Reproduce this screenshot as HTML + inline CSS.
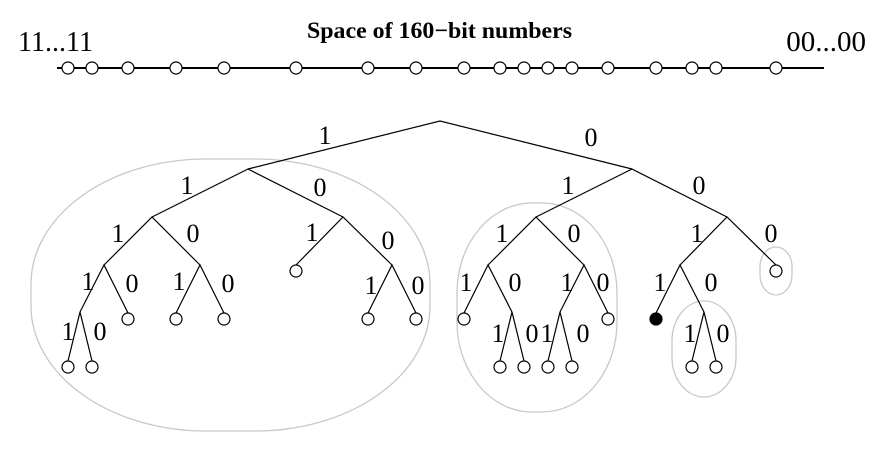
<!DOCTYPE html>
<html><head><meta charset="utf-8"><style>
html,body{margin:0;padding:0;background:#fff;}
svg{display:block;}
text{font-family:"Liberation Serif",serif;}
</style></head><body>
<svg width="878" height="450" viewBox="0 0 878 450" xmlns="http://www.w3.org/2000/svg">
<g fill="none" stroke="#c8c8c8" stroke-width="1.3">
<rect x="31" y="159" width="399" height="272" rx="175" ry="125"/>
<rect x="457" y="203" width="160" height="209" rx="75" ry="90"/>
<rect x="760" y="247" width="32" height="48" rx="16" ry="20"/>
<rect x="672" y="301" width="64" height="96" rx="32" ry="40"/>
</g>
<text x="307" y="38" font-size="23" font-weight="bold" textLength="265" lengthAdjust="spacingAndGlyphs">Space of 160−bit numbers</text>
<text x="18" y="51" font-size="29" textLength="75" lengthAdjust="spacingAndGlyphs">11...11</text>
<text x="866" y="51" font-size="29" text-anchor="end">00...00</text>
<line x1="57" y1="68" x2="824" y2="68" stroke="#000" stroke-width="2"/>
<g fill="#fff" stroke="#000" stroke-width="1.2">
<circle cx="68" cy="68" r="6"/><circle cx="92" cy="68" r="6"/><circle cx="128" cy="68" r="6"/><circle cx="176" cy="68" r="6"/><circle cx="224" cy="68" r="6"/><circle cx="296" cy="68" r="6"/><circle cx="368" cy="68" r="6"/><circle cx="416" cy="68" r="6"/><circle cx="464" cy="68" r="6"/><circle cx="500" cy="68" r="6"/><circle cx="524" cy="68" r="6"/><circle cx="548" cy="68" r="6"/><circle cx="572" cy="68" r="6"/><circle cx="608" cy="68" r="6"/><circle cx="656" cy="68" r="6"/><circle cx="692" cy="68" r="6"/><circle cx="716" cy="68" r="6"/><circle cx="776" cy="68" r="6"/>
</g>
<g stroke="#000" stroke-width="1.2" fill="none">
<polyline points="248,169 440,121 632,169"/>
<polyline points="152,217 248,169 343,217"/>
<polyline points="104,265 152,217 200,265"/>
<polyline points="80,312 104,265 128,313"/>
<polyline points="68,361 80,312 92,361"/>
<polyline points="176,313 200,265 224,313"/>
<polyline points="296,265 343,217 392,265"/>
<polyline points="368,313 392,265 416,313"/>
<polyline points="536,217 632,169 727,217"/>
<polyline points="488,265 536,217 584,265"/>
<polyline points="464,313 488,265 512,312"/>
<polyline points="500,361 512,312 524,361"/>
<polyline points="560,312 584,265 608,313"/>
<polyline points="548,361 560,312 572,361"/>
<polyline points="680,265 727,217 776,265"/>
<polyline points="656,313 680,265 704,312"/>
<polyline points="692,361 704,312 716,361"/>
</g>
<g fill="#fff" stroke="#000" stroke-width="1.2">
<circle cx="68" cy="367" r="6"/><circle cx="92" cy="367" r="6"/>
<circle cx="128" cy="319" r="6"/><circle cx="176" cy="319" r="6"/><circle cx="224" cy="319" r="6"/>
<circle cx="296" cy="271" r="6"/><circle cx="368" cy="319" r="6"/><circle cx="416" cy="319" r="6"/>
<circle cx="464" cy="319" r="6"/><circle cx="500" cy="367" r="6"/><circle cx="524" cy="367" r="6"/>
<circle cx="548" cy="367" r="6"/><circle cx="572" cy="367" r="6"/><circle cx="608" cy="319" r="6"/>
<circle cx="776" cy="271" r="6"/><circle cx="692" cy="367" r="6"/><circle cx="716" cy="367" r="6"/>
<circle cx="656" cy="319" r="6" fill="#000"/>
</g>
<g font-size="26" text-anchor="middle">
<text x="325" y="144">1</text><text x="591" y="146">0</text>
<text x="187" y="194">1</text><text x="320" y="196">0</text>
<text x="118" y="242">1</text><text x="193" y="242">0</text>
<text x="312" y="241">1</text><text x="388" y="249">0</text>
<text x="88" y="290">1</text><text x="132" y="292">0</text>
<text x="179" y="290">1</text><text x="228" y="292">0</text>
<text x="371" y="294">1</text><text x="418" y="294">0</text>
<text x="68" y="340">1</text><text x="100" y="340">0</text>
<text x="568" y="194">1</text><text x="699" y="194">0</text>
<text x="502" y="242">1</text><text x="574" y="242">0</text>
<text x="697" y="242">1</text><text x="771" y="242">0</text>
<text x="466" y="291">1</text><text x="515" y="291">0</text>
<text x="567" y="291">1</text><text x="603" y="291">0</text>
<text x="660" y="291">1</text><text x="711" y="291">0</text>
<text x="498" y="342">1</text><text x="532" y="342">0</text>
<text x="547" y="342">1</text><text x="583" y="342">0</text>
<text x="690" y="342">1</text><text x="723" y="342">0</text>
</g>
</svg>
</body></html>
